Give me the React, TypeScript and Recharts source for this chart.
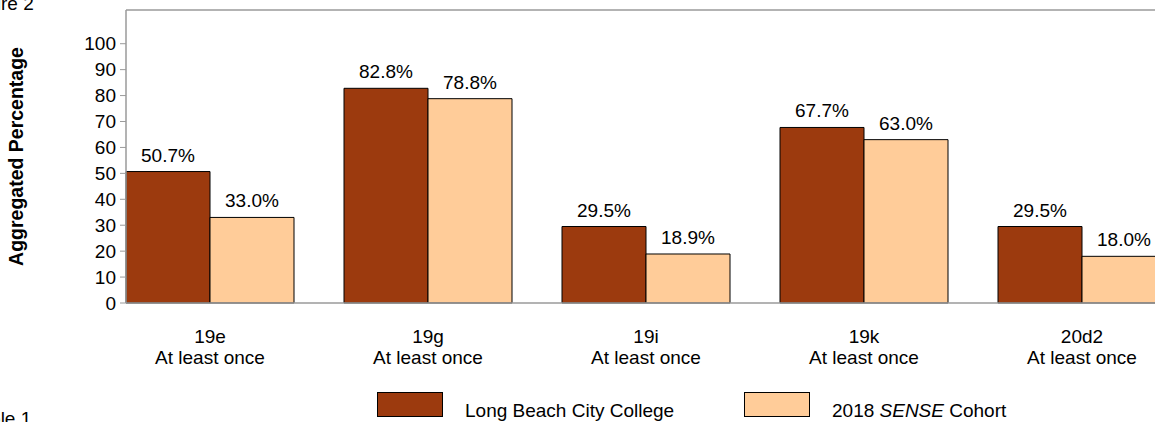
import { BarChart, Bar, XAxis, YAxis, LabelList, ReferenceLine, Label } from 'recharts';

const categories = ['19e', '19g', '19i', '19k', '20d2'];
const subLabels = ['At least once', 'At least once', 'At least once', 'At least once', 'At least once'];
const collegeValues = [50.7, 82.8, 29.5, 67.7, 29.5];
const cohortValues = [33.0, 78.8, 18.9, 63.0, 18.0];
const yTicks = [0, 10, 20, 30, 40, 50, 60, 70, 80, 90, 100];

const collegeName = 'Long Beach City College';
const COLLEGE_COLOR = '#9C3A0E';
const COHORT_COLOR = '#FFCC99';
const AXIS_GRAY = '#9a9a9a';
const FONT = '"Liberation Sans", Arial, Helvetica, sans-serif';
const FS = 19;

const data = categories.map((name, i) => ({
  name,
  sub: subLabels[i],
  college: collegeValues[i],
  cohort: cohortValues[i],
}));

const CategoryTick = (props: any) => {
  const { x, y, payload, index } = props;
  return (
    <g>
      <text x={x} y={y + 40} textAnchor="middle" fontSize={FS} fill="#000" fontFamily={FONT}>
        {payload.value}
      </text>
      <text x={x} y={y + 61} textAnchor="middle" fontSize={FS} fill="#000" fontFamily={FONT}>
        {subLabels[index ?? payload.index]}
      </text>
    </g>
  );
};

const BarValue = (props: any) => {
  const { x, y, width, value } = props;
  return (
    <text x={x + width / 2} y={y - 10} textAnchor="middle" fontSize={FS} fill="#000" fontFamily={FONT}>
      {Number(value).toFixed(1)}%
    </text>
  );
};

const YTitle = (props: any) => {
  const vb = props.viewBox || { y: 10, height: 293 };
  const cy = vb.y + vb.height / 2;
  return (
    <text
      x={23}
      y={cy}
      transform={`rotate(-90 23 ${cy})`}
      textAnchor="middle"
      fontSize={19.5}
      fontWeight="bold"
      fill="#000"
      fontFamily={FONT}
    >
      Aggregated Percentage
    </text>
  );
};

export default function App() {
  return (
    <div
      style={{
        position: 'absolute',
        left: 0,
        top: 0,
        width: 1155,
        height: 422,
        overflow: 'hidden',
        background: '#fff',
        fontFamily: FONT,
      }}
    >
      <BarChart
        width={1170}
        height={422}
        data={data}
        margin={{ top: 10, right: 4, bottom: 0, left: 0 }}
        barCategoryGap={25}
        barGap={0}
      >
        <XAxis
          dataKey="name"
          height={119}
          padding={{ left: -25, right: -25 }}
          axisLine={{ stroke: AXIS_GRAY, strokeWidth: 1.5 }}
          tickLine={false}
          tickSize={0}
          tickMargin={0}
          tick={<CategoryTick />}
          interval={0}
        />
        <YAxis
          width={126}
          domain={[0, 113]}
          ticks={yTicks}
          interval={0}
          axisLine={{ stroke: AXIS_GRAY, strokeWidth: 1.5 }}
          tickLine={{ stroke: AXIS_GRAY }}
          tickSize={6}
          tickMargin={4}
          tick={{ fill: '#000', fontSize: FS, fontFamily: FONT }}
        >
          <Label content={<YTitle />} />
        </YAxis>
        <ReferenceLine y={113} stroke={AXIS_GRAY} strokeWidth={1.5} />
        <Bar dataKey="college" fill={COLLEGE_COLOR} stroke="#000" strokeWidth={1} isAnimationActive={false}>
          <LabelList dataKey="college" content={<BarValue />} />
        </Bar>
        <Bar dataKey="cohort" fill={COHORT_COLOR} stroke="#000" strokeWidth={1} isAnimationActive={false}>
          <LabelList dataKey="cohort" content={<BarValue />} />
        </Bar>
      </BarChart>
      <svg
        width={1155}
        height={422}
        style={{ position: 'absolute', left: 0, top: 0, pointerEvents: 'none' }}
      >
        <text x={-36} y={10} fontSize={FS} fill="#000" fontFamily={FONT}>
          Figure 2
        </text>
        <text x={-30} y={425} fontSize={FS} fill="#000" fontFamily={FONT}>
          Table 1
        </text>
        <rect x={377.5} y={392.5} width={65} height={24} fill={COLLEGE_COLOR} stroke="#000" strokeWidth={1} />
        <text x={465} y={417} fontSize={FS} fill="#000" fontFamily={FONT}>
          {collegeName}
        </text>
        <rect x={744.5} y={392.5} width={65} height={24} fill={COHORT_COLOR} stroke="#000" strokeWidth={1} />
        <text x={832} y={417} fontSize={FS} fill="#000" fontFamily={FONT}>
          2018 <tspan fontStyle="italic">SENSE</tspan> Cohort
        </text>
      </svg>
    </div>
  );
}
